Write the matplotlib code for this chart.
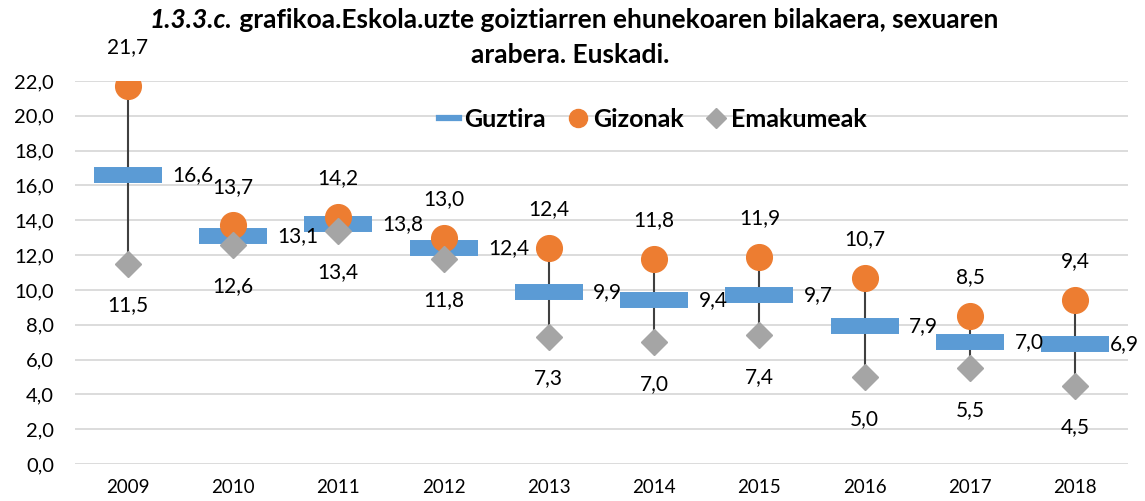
import matplotlib
matplotlib.use("Agg")
import matplotlib.pyplot as plt
from matplotlib.lines import Line2D

plt.rcParams['font.family'] = ['Lato', 'DejaVu Sans']

years = ['2009', '2010', '2011', '2012', '2013', '2014', '2015', '2016', '2017', '2018']
guztira = [16.6, 13.1, 13.8, 12.4, 9.9, 9.4, 9.7, 7.9, 7.0, 6.9]
gizonak = [21.7, 13.7, 14.2, 13.0, 12.4, 11.8, 11.9, 10.7, 8.5, 9.4]
emakumeak = [11.5, 12.6, 13.4, 11.8, 7.3, 7.0, 7.4, 5.0, 5.5, 4.5]

blue = '#5B9BD5'
orange = '#ED7D31'
grey = '#A5A5A5'

def fmt(v):
    return '{:.1f}'.format(v).replace('.', ',')

fig = plt.figure(figsize=(11.45, 5.01), dpi=100)
ax = fig.add_axes([75 / 1145, 1 - 464 / 501, 1053 / 1145, 383 / 501])
x = list(range(len(years)))

# high-low lines
ax.vlines(x, emakumeak, gizonak, color='#404040', lw=1.5, zorder=2)
ax.plot(x, guztira, ls='none', marker='_', ms=49, mew=11.5, color=blue, zorder=3)
ax.plot(x, gizonak, ls='none', marker='o', ms=18.5, color=orange, mec=orange, zorder=4)
ax.plot(x, emakumeak, ls='none', marker='D', ms=13.5, color=grey, mec=grey, zorder=5)

# data labels (last one pulled in so it stays inside the chart area, like Excel)
for i in x:
    dx = 25 if i == len(years) - 1 else 32
    ax.annotate(fmt(guztira[i]), (i, guztira[i]), xytext=(dx, 0), textcoords='offset points',
                ha='left', va='center', fontsize=15, zorder=6)
    ax.annotate(fmt(gizonak[i]), (i, gizonak[i]), xytext=(0, 28), textcoords='offset points',
                ha='center', va='center', fontsize=15, zorder=6)
    ax.annotate(fmt(emakumeak[i]), (i, emakumeak[i]), xytext=(0, -30), textcoords='offset points',
                ha='center', va='center', fontsize=15, zorder=6)

ax.set_xlim(-0.5, len(years) - 0.5)
ax.set_ylim(0, 22)
ax.set_yticks([v * 2 for v in range(12)])
ax.set_yticklabels([fmt(v * 2) for v in range(12)], fontsize=14.5)
ax.set_xticks(x)
ax.set_xticklabels(years, fontsize=13.5)
ax.tick_params(length=0, pad=11)
ax.tick_params(axis='y', pad=15)
ax.grid(axis='y', color='#D9D9D9', lw=1.3)
ax.set_axisbelow(True)
for s in ax.spines.values():
    s.set_visible(False)

handles = [Line2D([], [], color=blue, lw=4.5),
           Line2D([], [], ls='none', marker='o', ms=13, color=orange),
           Line2D([], [], ls='none', marker='D', ms=10, color=grey)]
fig.legend(handles, ['Guztira', 'Gizonak', 'Emakumeak'], loc='center',
           bbox_to_anchor=(653 / 1145, 1 - 119 / 501), ncol=3, frameon=False,
           prop={'weight': 'bold', 'size': 18}, handlelength=0.8, handletextpad=0.2,
           columnspacing=0.9)

# title: italic part + plain part, both bold
fig.canvas.draw()
r = fig.canvas.get_renderer()
t1 = fig.text(0, 1 - 20 / 501, '1.3.3.c.', fontsize=19, weight='bold', style='italic',
              ha='left', va='center')
t2 = fig.text(0, 1 - 20 / 501, ' grafikoa.Eskola.uzte goiztiarren ehunekoaren bilakaera, sexuaren',
              fontsize=19, weight='bold', ha='left', va='center')
w1 = t1.get_window_extent(r).width
w2 = t2.get_window_extent(r).width
x0 = (574 - (w1 + w2) / 2) / 1145
t1.set_x(x0)
t2.set_x(x0 + w1 / 1145)
fig.text(570 / 1145, 1 - 55 / 501, 'arabera. Euskadi.', fontsize=19, weight='bold',
         ha='center', va='center')

fig.savefig('out.png', dpi=100)
